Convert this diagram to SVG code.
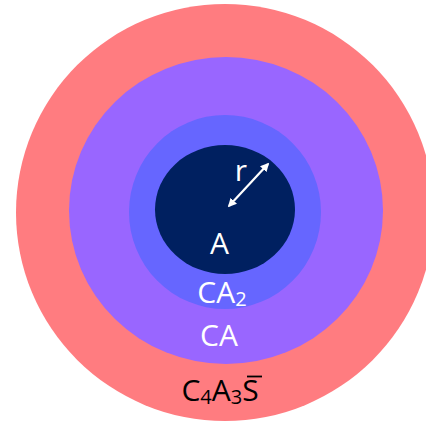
<svg xmlns="http://www.w3.org/2000/svg" width="426" height="425" viewBox="0 0 426 425">
<style>
.lbl{font-family:"Open Sans","Noto Sans",sans-serif;font-size:30px;text-anchor:middle}
.w{fill:#ffffff}
.k{fill:#000000}
.sub{font-size:20px}
</style>
<defs>
<marker id="ah" viewBox="0 0 10 10" refX="8" refY="5" markerWidth="4" markerHeight="4" orient="auto-start-reverse">
<path d="M0,0 L10,5 L0,10 z" fill="#ffffff"/>
</marker>
</defs>
<rect width="426" height="425" fill="#ffffff"/>
<g id="c4a3s">
<ellipse cx="225" cy="212.5" rx="209" ry="208.5" fill="#FF7C80"/>
<text class="lbl k" x="220" y="401">C<tspan class="sub" dy="3">4</tspan><tspan dy="-3">A</tspan><tspan class="sub" dy="3">3</tspan><tspan dy="-3">S</tspan></text>
<line x1="247" y1="376.5" x2="262" y2="376.5" stroke="#000000" stroke-width="1.8"/>
</g>
<g id="ca">
<ellipse cx="226" cy="210.5" rx="157" ry="153.5" fill="#9966FF"/>
<text class="lbl w" x="219" y="346">CA</text>
</g>
<g id="ca2">
<ellipse cx="225" cy="212" rx="96" ry="97" fill="#6666FF"/>
<text class="lbl w" x="222" y="303">CA<tspan class="sub" dy="3">2</tspan></text>
</g>
<g id="a">
<ellipse cx="225" cy="209.5" rx="70" ry="64.5" fill="#002060"/>
<text class="lbl w" x="219.5" y="254">A</text>
<text class="lbl w" x="241" y="181">r</text>
</g>
<g id="connectors">
<line x1="229" y1="206" x2="268" y2="164" stroke="#ffffff" stroke-width="2.2" marker-start="url(#ah)" marker-end="url(#ah)"/>
</g>
</svg>
